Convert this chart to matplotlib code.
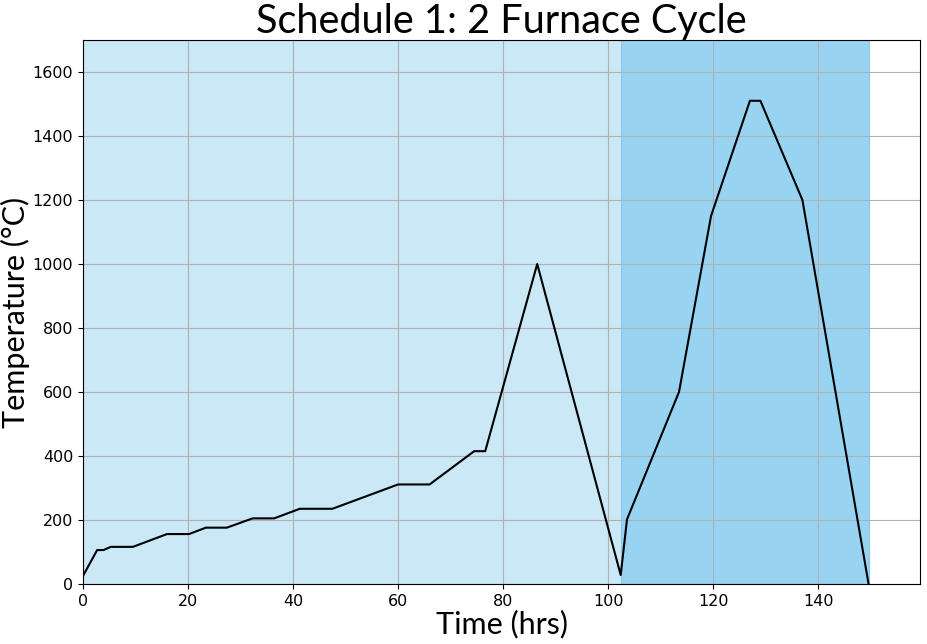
import numpy as np
import matplotlib.pyplot as plt

# furnace schedule (hrs, degC)
time = [0, 2.7, 3.9, 5.3, 9.5, 16.0, 20.2, 23.4, 27.4, 32.3, 36.4, 41.3, 47.5,
        60.0, 66.0, 74.5, 76.6, 86.5, 102.4, 103.6, 113.5, 119.6, 127.0, 129.0,
        137.0, 149.6]
temp = [25, 106, 106, 116, 116, 156, 156, 176, 176, 205, 205, 235, 235,
        311, 311, 415, 415, 1000, 28, 202, 600, 1150, 1510, 1510,
        1200, 0]

# furnace stages
stage1 = (0, 102.5)
stage2 = (102.5, 149.6)

fig = plt.figure(figsize=(9.27, 6.44), dpi=100)
ax = fig.add_axes([0.0895, 0.0932, 0.903, 0.8447])

ax.axvspan(*stage1, facecolor="#cbe8f7", edgecolor="none")
ax.axvspan(*stage2, facecolor="#98d3f2", edgecolor="#8cc8ea", linewidth=0.8)
ax.plot(time, temp, color="black", linewidth=1.5)

ax.set_xlim(0, 159.4)
ax.set_ylim(0, 1700)
ax.set_xticks(np.arange(0, 141, 20))
ax.set_yticks(np.arange(0, 1601, 200))
ax.grid(True, color="#b0b0b0", linewidth=0.8)
ax.tick_params(labelsize=11.5)

ax.set_title("Schedule 1: 2 Furnace Cycle", fontsize=28.5, family="Lato", pad=4)
ax.set_xlabel("Time (hrs)", fontsize=22, family="Lato", labelpad=1)
ax.set_ylabel("Temperature (°C)", fontsize=22, family="Lato")
ax.yaxis.set_label_coords(-0.063, 0.5)

fig.savefig("out.png", dpi=100)
